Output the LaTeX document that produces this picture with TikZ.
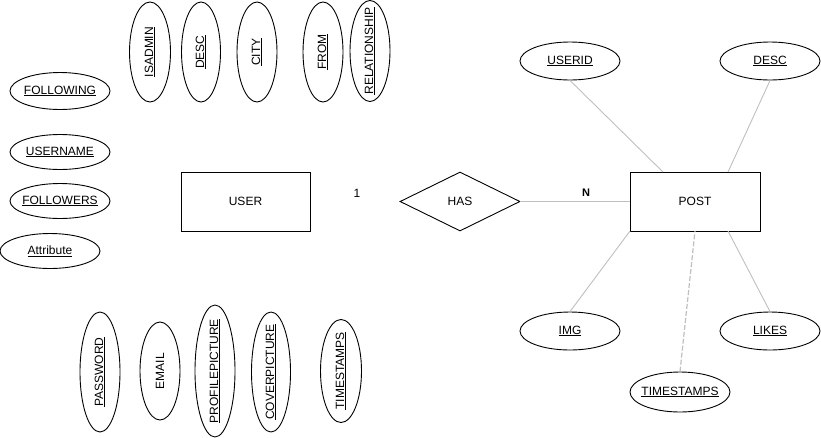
\documentclass[tikz,border=0pt]{standalone}
\usepackage{fontspec}
\setmainfont{Liberation Sans}
\usetikzlibrary{shapes.geometric}
\begin{document}
\begin{tikzpicture}[x=1pt,y=-1pt,
  font=\fontsize{12}{14}\selectfont,
  attr/.style={ellipse,draw=black,line width=0.9pt,inner ysep=0pt,inner xsep=-20pt,minimum width=100pt,minimum height=37pt},
  vattr/.style={ellipse,draw=black,line width=0.9pt,inner ysep=0pt,inner xsep=-30pt,minimum width=40pt,rotate=90},
  entity/.style={rectangle,draw=black,line width=0.9pt,minimum width=129pt,minimum height=59pt},
  rel/.style={diamond,draw=black,line width=0.9pt,inner sep=0pt,minimum width=120pt,minimum height=59pt,aspect=2},
  link/.style={draw=black!25,line width=0.9pt},
  dlink/.style={draw=black!25,line width=1.2pt,dash pattern=on 5pt off 2pt},
  card/.style={font=\fontsize{12}{14}\selectfont}
]
\useasboundingbox (0,0) rectangle (821,437);

% attributes above USER (text reads upwards)
\node[vattr,minimum height=41pt,minimum width=100pt] (isadmin) at (150,52) {\underline{ISADMIN}};
\node[vattr,minimum height=39pt,minimum width=100pt] (udesc) at (201,52) {\underline{DESC}};
\node[vattr,minimum height=40pt,minimum width=100pt] (city) at (257,52) {\underline{CITY}};
\node[vattr,minimum height=40pt,minimum width=100pt] (from) at (323,52) {\underline{FROM}};
\node[vattr,minimum height=40pt,minimum width=101pt] (relationship) at (370,51) {\underline{RELATIONSHIP}};

% attributes left of USER
\node[attr] (following) at (60,91) {\underline{FOLLOWING}};
\node[attr,minimum height=35pt] (username) at (60,152) {\underline{USERNAME}};
\node[attr,minimum height=35pt] (followers) at (60,201) {\underline{FOLLOWERS}};
\node[attr,minimum height=35pt] (attribute) at (50,251) {\underline{Attribute}};

% attributes below USER
\node[vattr,minimum height=40pt,minimum width=120pt] (password) at (100,372) {\underline{PASSWORD}};
\node[vattr,minimum height=40pt,minimum width=98pt] (email) at (160,371) {EMAIL};
\node[vattr,minimum height=40pt,minimum width=132pt] (profilepic) at (215,371) {\underline{PROFILEPICTURE}};
\node[vattr,minimum height=39pt,minimum width=120pt] (coverpic) at (271,372) {\underline{COVERPICTURE}};
\node[vattr,minimum height=41pt,minimum width=103pt] (utimestamps) at (341,371) {\underline{TIMESTAMPS}};

% entities and relationship
\node[entity] (user) at (245.5,201.5) {USER};
\node[rel] (has) at (460,201.5) {HAS};
\node[entity,minimum width=130pt] (post) at (695,201.5) {POST};

\node[card] (one) at (357,193) {1};
\node[card,font=\fontsize{11}{13}\selectfont\bfseries] (many) at (586,193) {N};

\draw[link] (has.east) -- (post.west);

% POST attributes
\node[attr,minimum height=38pt] (userid) at (570,61) {\underline{USERID}};
\node[attr,minimum height=38pt] (pdesc) at (770,61) {\underline{DESC}};
\node[attr,minimum height=38pt] (img) at (570,331) {\underline{IMG}};
\node[attr,minimum height=38pt] (likes) at (770,331) {\underline{LIKES}};
\node[attr,minimum height=40pt] (ptimestamps) at (680,392) {\underline{TIMESTAMPS}};

\coordinate (pt1) at (663,172);
\coordinate (pt2) at (728,172);
\coordinate (pb1) at (630,231);
\coordinate (pb2) at (695,231);
\coordinate (pb3) at (728,231);

\draw[link] (userid.south) -- (pt1);
\draw[link] (pdesc.south) -- (pt2);
\draw[link] (img.north) -- (pb1);
\draw[dlink] (ptimestamps.north) -- (pb2);
\draw[link] (likes.north) -- (pb3);
\end{tikzpicture}
\end{document}
